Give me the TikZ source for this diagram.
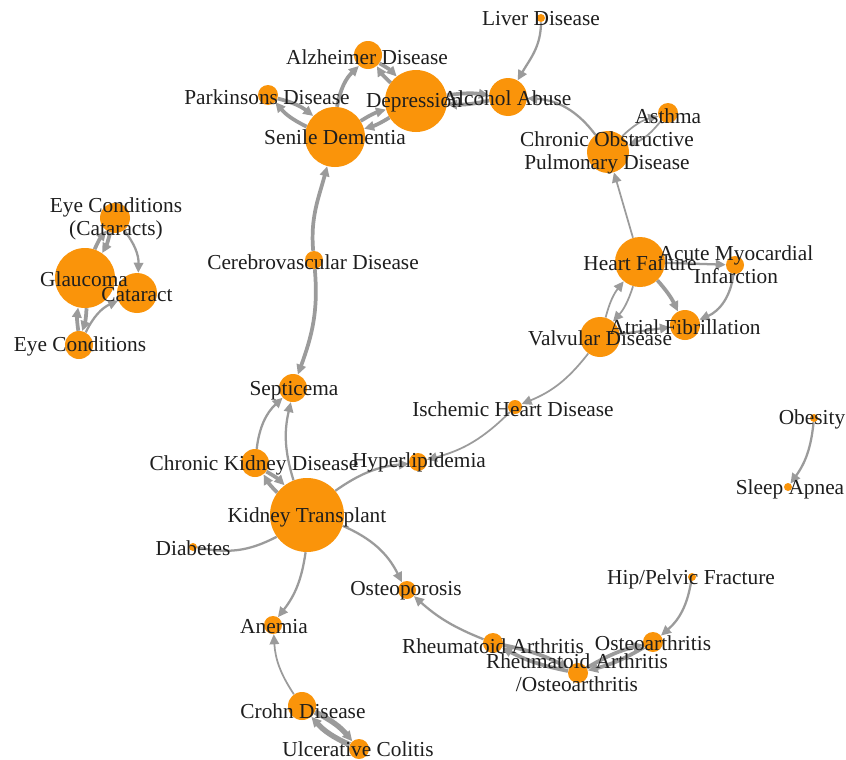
\documentclass[tikz,border=0pt]{standalone}
\usepackage{fontspec}
\setmainfont{Liberation Serif}
\usetikzlibrary{arrows.meta,backgrounds}
\definecolor{nodeorange}{RGB}{250,148,10}
\definecolor{edgegray}{RGB}{155,155,155}
\definecolor{labeltext}{RGB}{30,30,30}
\tikzset{
  nd/.style={circle, fill=nodeorange, draw=none, inner sep=0pt},
  lbl/.style={font=\fontsize{16}{18}\selectfont, text=labeltext, inner sep=0pt, text height=10.5pt, text depth=0pt},
  lblm/.style={font=\fontsize{16}{17.5}\selectfont, text=labeltext, inner sep=0pt, align=center},
  edge/.style={draw=edgegray, line width=1.7pt, -{Triangle[length=7.5pt,width=7pt]}},
  edgethin/.style={line width=1.3pt},
  edgeheavy/.style={line width=2.8pt},
  edgelens/.style={line width=4pt},
  plainedge/.style={draw=edgegray, line width=1.7pt},
}
\begin{document}
\begin{tikzpicture}[x=0.75pt,y=0.75pt]
\useasboundingbox (0,0) rectangle (846,-760);
% nodes (circles)
\node[nd, minimum size=6pt]    (liver)  at (541,-18)  {};
\node[nd, minimum size=28.5pt] (alc)    at (508,-97)  {};
\node[nd, minimum size=46.5pt] (dep)    at (416,-101) {};
\node[nd, minimum size=21pt]   (alz)    at (368,-55)  {};
\node[nd, minimum size=15pt]   (park)   at (268,-95)  {};
\node[nd, minimum size=45pt]   (sd)     at (335,-137) {};
\node[nd, minimum size=15pt]   (asthma) at (668,-113) {};
\node[nd, minimum size=31.5pt] (copd)   at (608,-152) {};
\node[nd, minimum size=22.5pt] (ecc)    at (115,-218) {};
\node[nd, minimum size=45pt]   (glau)   at (85,-278)  {};
\node[nd, minimum size=30pt]   (cat)    at (137,-293) {};
\node[nd, minimum size=21pt]   (ec)     at (79,-345)  {};
\node[nd, minimum size=37.5pt] (hf)     at (640,-262) {};
\node[nd, minimum size=13.5pt] (ami)    at (735,-265) {};
\node[nd, minimum size=22.5pt] (af)     at (685,-325) {};
\node[nd, minimum size=30pt]   (valv)   at (600,-337) {};
\node[nd, minimum size=10.5pt] (ihd)    at (515,-407) {};
\node[nd, minimum size=13.5pt] (hyper)  at (418,-462) {};
\node[nd, minimum size=13.5pt] (cereb)  at (314,-260) {};
\node[nd, minimum size=21pt]   (sept)   at (293,-388) {};
\node[nd, minimum size=21pt]   (ckd)    at (255,-463) {};
\node[nd, minimum size=55.5pt] (kt)     at (307,-515) {};
\node[nd, minimum size=6pt]    (diab)   at (193,-547) {};
\node[nd, minimum size=13.5pt] (osteop) at (407,-590) {};
\node[nd, minimum size=13.5pt] (anemia) at (273,-625) {};
\node[nd, minimum size=15pt]   (ra)     at (493,-643) {};
\node[nd, minimum size=15pt]   (oa)     at (653,-642) {};
\node[nd, minimum size=15pt]   (raoa)   at (578,-673) {};
\node[nd, minimum size=6pt]    (hip)    at (692,-577) {};
\node[nd, minimum size=21pt]   (crohn)  at (302,-706) {};
\node[nd, minimum size=15pt]   (uc)     at (359,-749) {};
\node[nd, minimum size=6pt]    (obes)   at (814,-418) {};
\node[nd, minimum size=6pt]    (sleep)  at (788,-487) {};
% edges behind
\begin{pgfonlayer}{background}
\fill[white] (0,0) rectangle (846,-760);
\draw[edge] (liver) to[out=-90,in=60] (alc);
\draw[edge, edgeheavy] (dep) to[bend left=8] (alc);
\draw[edge, edgeheavy] (alc) to[bend left=8] (dep);
\draw[edge] (copd) to[bend right=25] (alc);
\draw[edge, edgethin] (copd) to[bend left=15] (asthma);
\draw[edge, edgethin] (asthma) to[bend left=15] (copd);
\draw[edge, edgethin] (hf) to (copd);
\draw[edge, edgeheavy] (alz) to[bend left=8] (dep);
\draw[edge, edgeheavy] (dep) to[bend left=8] (alz);
\draw[edge, edgeheavy] (sd) to[bend left=18] (alz);
\draw[edge, edgeheavy] (park) to[bend left=12] (sd);
\draw[edge, edgeheavy] (sd) to[bend left=12] (park);
\draw[edge, edgeheavy] (dep) to[bend left=8] (sd);
\draw[edge, edgeheavy] (sd) to[bend left=8] (dep);
\draw[edge, edgeheavy] (cereb) to[out=95,in=-105] (sd);
\draw[edge, edgeheavy] (cereb) to[out=-85,in=70] (sept);
\draw[edge] (ckd) to[bend left=20] (sept);
\draw[edge] (kt) to[bend left=15] (sept);
\draw[edge, edgeheavy] (kt) to[bend left=8] (ckd);
\draw[edge, edgeheavy] (ckd) to[bend left=8] (kt);
\draw[edge] (kt) to[bend left=15] (hyper);
\draw[edge, edgethin] (ihd) to[bend left=15] (hyper);
\draw[edge, edgethin] (valv) to[bend left=15] (ihd);
\draw[edge, edgethin] (hf) to[bend left=12] (valv);
\draw[edge, edgethin] (valv) to[bend left=12] (hf);
\draw[edge, edgeheavy] (hf) to[bend left=8] (af);
\draw[edge] (hf) to (ami);
\draw[edge] (ami) to[bend left=30] (af);
\draw[edge] (valv) to (af);
\draw[plainedge] (kt) to[bend left=20] (diab);
\draw[edge] (kt) to[bend left=15] (anemia);
\draw[edge] (kt) to[bend left=20] (osteop);
\draw[edge] (ra) to[bend left=10] (osteop);
\draw[edge, edgethin] (crohn) to[bend left=15] (anemia);
\draw[edge, edgelens] (crohn) to[bend left=12] (uc);
\draw[edge, edgelens] (uc) to[bend left=12] (crohn);
\draw[edge, edgeheavy] (ra) to[bend left=8] (raoa);
\draw[edge, edgeheavy] (raoa) to[bend left=8] (ra);
\draw[edge, edgeheavy] (oa) to[bend left=8] (raoa);
\draw[edge, edgeheavy] (raoa) to[bend left=8] (oa);
\draw[edge] (hip) to[bend left=20] (oa);
\draw[edge] (obes) to[bend left=15] (sleep);
\draw[edge] (ecc) to[bend left=20] (cat);
\draw[edge, edgeheavy] (ecc) to[bend left=8] (glau);
\draw[edge, edgeheavy] (glau) to[bend left=8] (ecc);
\draw[edge, edgeheavy] (glau) to[bend left=8] (ec);
\draw[edge, edgeheavy] (ec) to[bend left=8] (glau);
\draw[edge] (ec) to[bend left=20] (cat);
\end{pgfonlayer}
% labels
\node[lbl] (liver-l)  at (541,-18)  {Liver Disease};
\node[lbl] (dep-l)    at (414,-100) {Depression};
\node[lbl] (alc-l)    at (507,-98)  {Alcohol Abuse};
\node[lbl] (alz-l)    at (367,-57)  {Alzheimer Disease};
\node[lbl] (park-l)   at (267,-97)  {Parkinsons Disease};
\node[lbl] (sd-l)     at (335,-137) {Senile Dementia};
\node[lbl] (asthma-l) at (668,-116) {Asthma};
\node[lblm] (copd-l)  at (607,-153) {Chronic Obstructive\\Pulmonary Disease};
\node[lblm] (ecc-l)   at (116,-219) {Eye Conditions\\(Cataracts)};
\node[lbl] (glau-l)   at (84,-279)  {Glaucoma};
\node[lbl] (cat-l)    at (137,-294) {Cataract};
\node[lbl] (ec-l)     at (80,-344)  {Eye Conditions};
\node[lbl] (hf-l)     at (640,-263) {Heart Failure};
\node[lblm] (ami-l)   at (736,-265) {Acute Myocardial\\Infarction};
\node[lbl] (af-l)     at (685,-327) {Atrial Fibrillation};
\node[lbl] (valv-l)   at (600,-338) {Valvular Disease};
\node[lbl] (ihd-l)    at (513,-409) {Ischemic Heart Disease};
\node[lbl] (hyper-l)  at (419,-460) {Hyperlipidemia};
\node[lbl] (cereb-l)  at (313,-262) {Cerebrovascular Disease};
\node[lbl] (sept-l)   at (294,-388) {Septicema};
\node[lbl] (ckd-l)    at (254,-463) {Chronic Kidney Disease};
\node[lbl] (kt-l)     at (307,-515) {Kidney Transplant};
\node[lbl] (diab-l)   at (193,-548) {Diabetes};
\node[lbl] (osteop-l) at (406,-588) {Osteoporosis};
\node[lbl] (anemia-l) at (274,-626) {Anemia};
\node[lbl] (ra-l)     at (493,-646) {Rheumatoid Arthritis};
\node[lbl] (oa-l)     at (653,-643) {Osteoarthritis};
\node[lblm] (raoa-l)  at (577,-673) {Rheumatoid Arthritis\\/Osteoarthritis};
\node[lbl] (hip-l)    at (691,-577) {Hip/Pelvic Fracture};
\node[lbl] (crohn-l)  at (303,-711) {Crohn Disease};
\node[lbl] (uc-l)     at (358,-749) {Ulcerative Colitis};
\node[lbl] (obes-l)   at (812,-417) {Obesity};
\node[lbl] (sleep-l)  at (790,-487) {Sleep Apnea};
\end{tikzpicture}
\end{document}
